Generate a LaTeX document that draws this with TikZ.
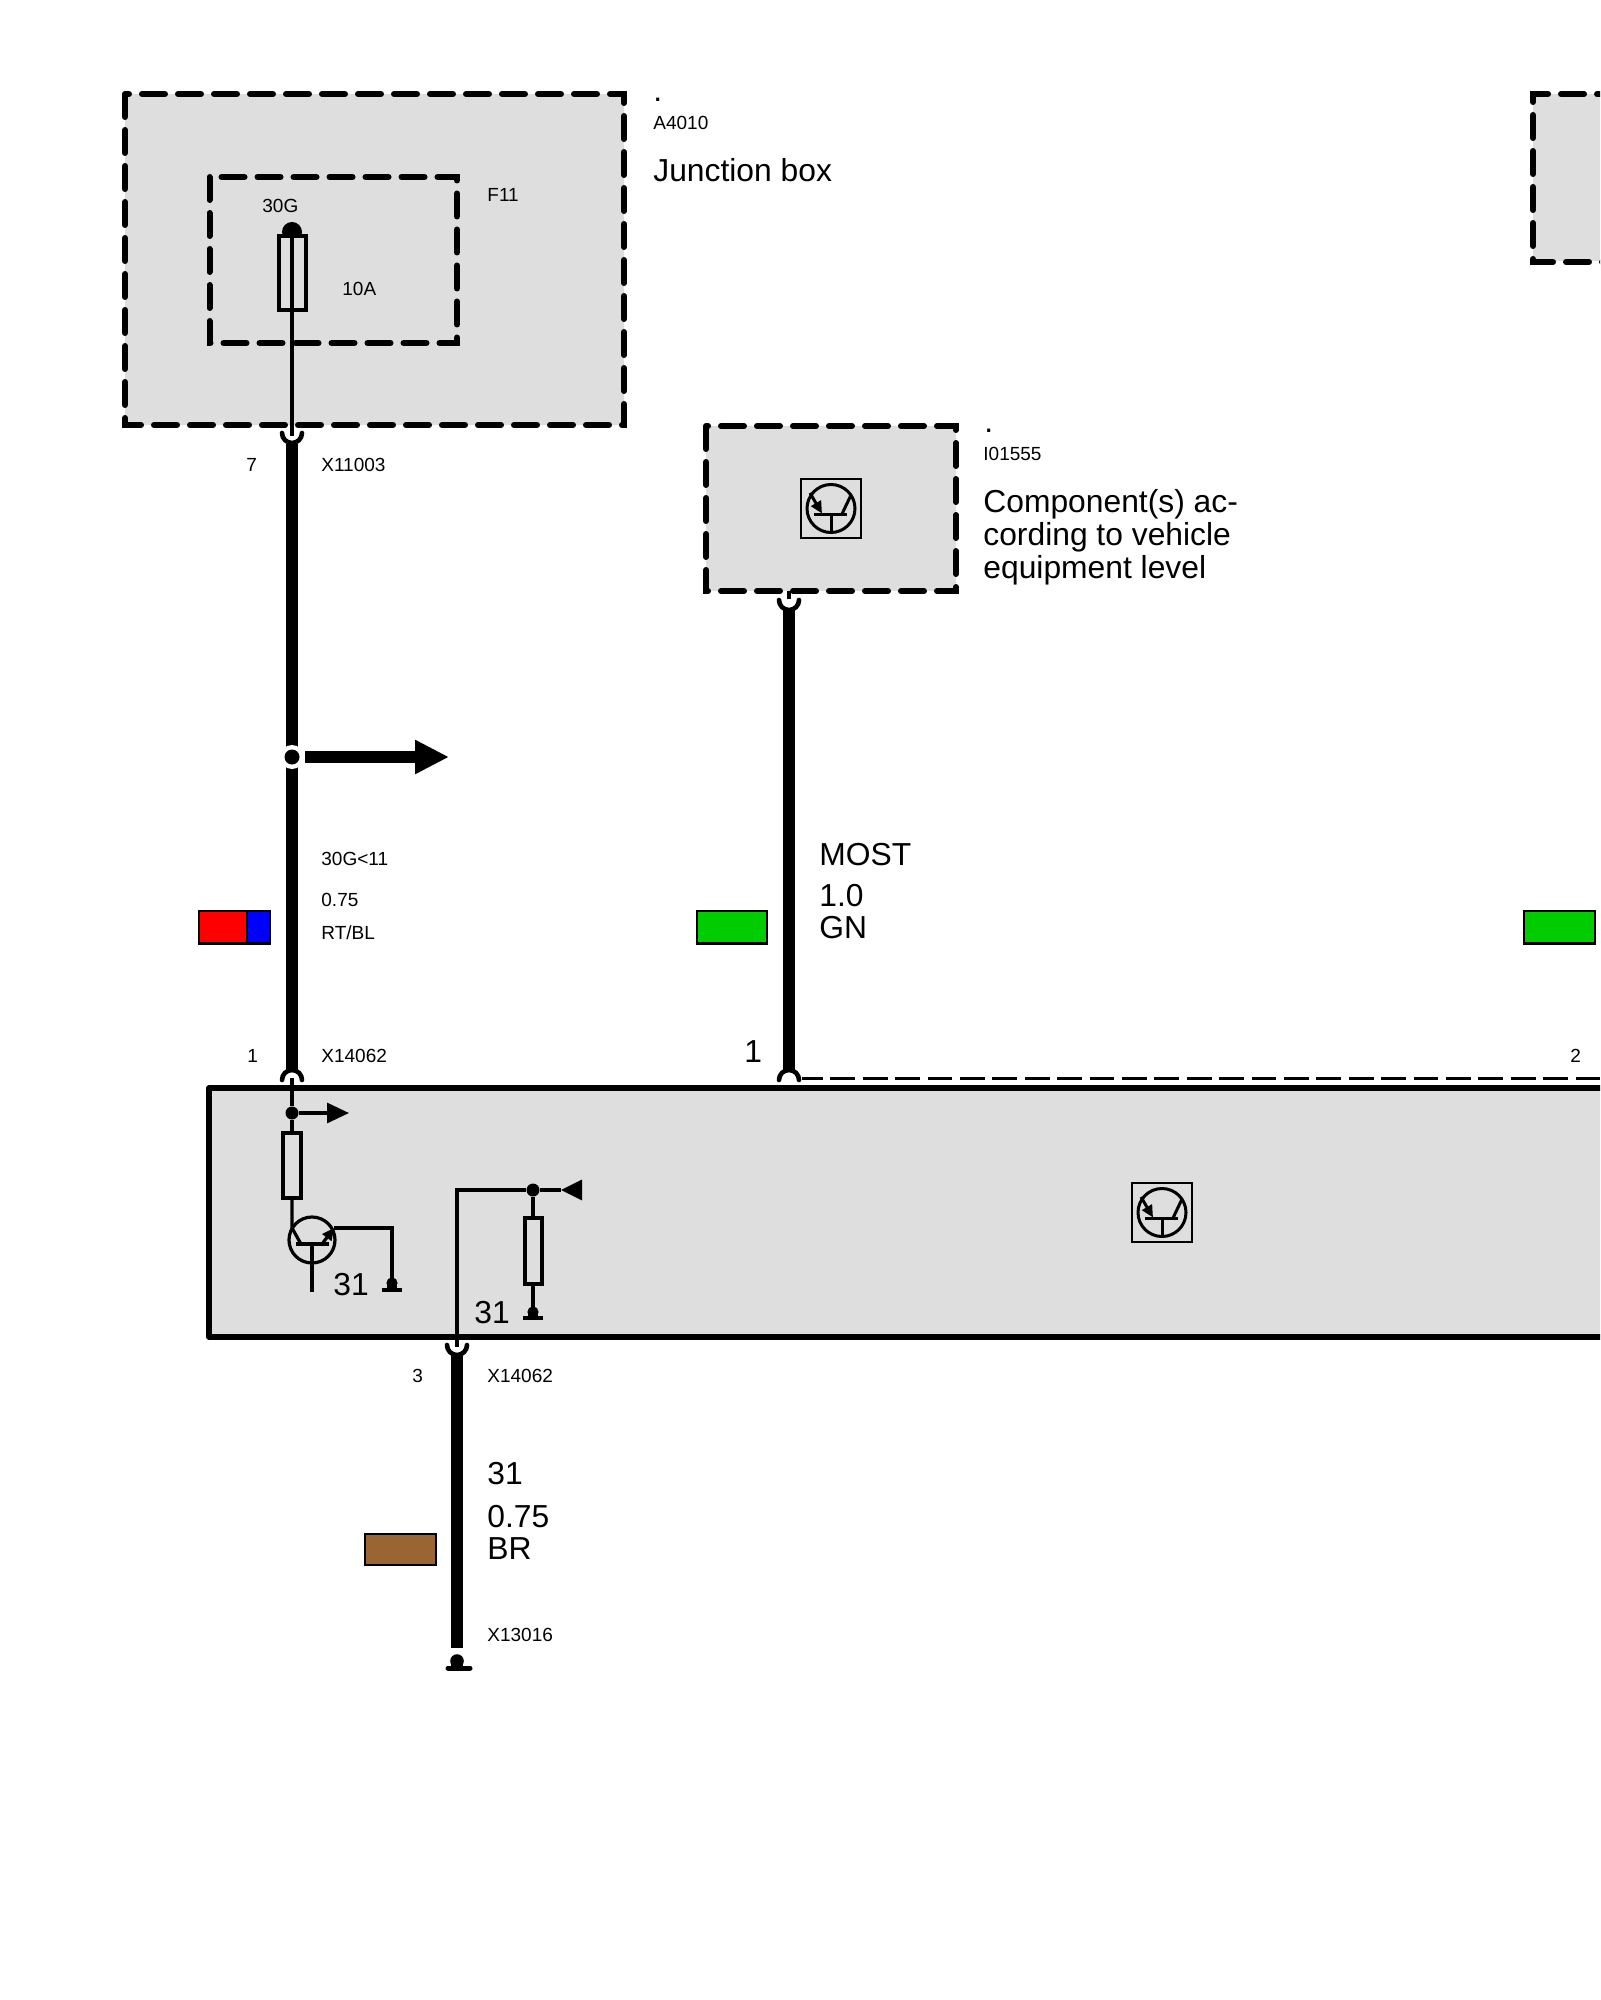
\documentclass[tikz,border=0pt]{standalone}
\usepackage{fontspec}
\setmainfont{Liberation Sans}
\usetikzlibrary{arrows.meta}
\definecolor{boxgrey}{HTML}{DEDEDE}
\definecolor{wiregreen}{HTML}{00CC00}
\definecolor{wirebrown}{HTML}{996633}
\tikzset{
	smalltxt/.style={anchor=base west,inner sep=0pt,font=\fontsize{9.5}{11}\selectfont},
	bigtxt/.style={anchor=base west,inner sep=0pt,font=\fontsize{15.9}{16.5}\selectfont},
	thinwire/.style={line width=1.6pt},
	thickwire/.style={line width=5.8pt},
	stubwire/.style={line width=2.2pt},
	dashbox/.style={line width=3pt,line cap=round,dash pattern=on 11.5pt off 6.5pt},
	swatch/.style={draw=black,line width=1.4pt},
	cupline/.style={line width=2.3pt,line cap=round},
	dotmark/.style={circle,fill=black,inner sep=0pt,minimum size=#1},
	transsym/.pic={
		\draw[line width=1.4pt] (-30,-29.5) rectangle (30,29.5);
		\draw[line width=1.5pt] (0,0) circle (12pt);
		\draw[line width=1.5pt] (-17,5.5) -- (16,5.5);
		\draw[line width=1.5pt] (0,5.5) -- (0,23);
		\draw[line width=1.5pt,-{Triangle[length=6pt,width=5.5pt]}] (-21,-15.5) -- (-9,5);
		\draw[line width=1.5pt] (11,5.5) -- (20,-13.5);
	}
}
\begin{document}
\begin{tikzpicture}[x=0.5pt,y=-0.5pt]
	\clip (0,0) rectangle (1600,2000);
	\fill[white] (0,0) rectangle (1600,2000);
	%Junction box
	\fill[boxgrey] (125,94) rectangle (624,425);
	\draw[dashbox] (125,94) rectangle (624,425);
	\draw[dashbox] (209.5,177) rectangle (457,343);
	\fill[boxgrey] (1533,94) rectangle (1620,261);
	\draw[dashbox] (1620,94) -- (1533,94) -- (1533,262) -- (1620,262);
	\node[bigtxt] (dotA) at (653,102) {.};
	\node[smalltxt] (idA) at (653,130) {A4010};
	\node[bigtxt] (nameA) at (653,182) {Junction box};
	\node[smalltxt] (f11) at (487,202) {F11};
	\node[smalltxt] (t30g) at (262,213) {30G};
	\node[smalltxt] (t10a) at (342,296) {10A};
	%Fuse
	\coordinate (fusetop) at (292,232);
	\coordinate (boxout) at (292,425);
	\coordinate (stubend) at (292,436);
	\fill (fusetop) circle (5pt);
	\draw[thinwire,fill=boxgrey] (279,236) rectangle (306,310);
	\draw[thinwire] (fusetop) -- (boxout);
	\draw[stubwire] (boxout) -- (stubend);
	%Wire 7 to 1
	\coordinate (w1top) at (292,444);
	\coordinate (w1bot) at (292,1070);
	\draw[cupline] (282,433) arc[start angle=180,end angle=360,radius=5pt];
	\draw[thickwire] (w1top) -- (w1bot);
	\draw[cupline] (282,1080) arc[start angle=180,end angle=0,radius=5pt];
	\node[circle,fill=white,inner sep=0pt,minimum size=12pt] (ring1) at (292,757) {};
	\node[dotmark=7.5pt] (j1) at (292,757) {};
	\coordinate (j1out) at (305,757);
	\coordinate (j1tip) at (449,757);
	\draw[thickwire,-{Triangle[length=17pt,width=16pt]}] (j1out) -- (j1tip);
	\node[smalltxt] (n7) at (246,472) {7};
	\node[smalltxt] (x11003) at (321,472) {X11003};
	\node[smalltxt] (t30g11) at (321,865) {30G<11};
	\node[smalltxt] (t075a) at (321,906) {0.75};
	\node[smalltxt] (trtbl) at (321,939) {RT/BL};
	\filldraw[swatch,fill=red] (199,911) rectangle (247,943.5);
	\filldraw[swatch,fill=blue] (247,911) rectangle (270,943.5);
	\node[smalltxt] (n1a) at (247,1062) {1};
	\node[smalltxt] (x14062a) at (321,1062) {X14062};
	%Component box
	\fill[boxgrey] (706,426) rectangle (956,591);
	\draw[dashbox] (706,426) rectangle (956,591);
	\pic at (831,508.5) {transsym};
	\node[bigtxt] (dotB) at (984,433) {.};
	\node[smalltxt] (idB) at (983,460) {I01555};
	\node[bigtxt,align=left,anchor=north west] (nameB) at (983,489.5) {Component(s) ac-\\cording to vehicle\\equipment level};
	%Wire MOST
	\coordinate (w2out) at (789,591);
	\coordinate (w2cup) at (789,599);
	\coordinate (w2top) at (789,610);
	\coordinate (w2bot) at (789,1070);
	\draw[stubwire] (w2out) -- (w2cup);
	\draw[cupline] (779,600) arc[start angle=180,end angle=360,radius=5pt];
	\draw[thickwire] (w2top) -- (w2bot);
	\draw[cupline] (779,1080) arc[start angle=180,end angle=0,radius=5pt];
	\node[bigtxt] (most) at (819,865) {MOST};
	\node[bigtxt] (t10) at (819,906) {1.0};
	\node[bigtxt] (gn) at (819,938) {GN};
	\filldraw[swatch,fill=wiregreen] (697,911) rectangle (767,943.5);
	\filldraw[swatch,fill=wiregreen] (1524,911) rectangle (1595,943.5);
	\node[bigtxt] (n1b) at (744,1062) {1};
	\node[smalltxt] (n2) at (1570,1062) {2};
	\coordinate (dashstart) at (802,1078);
	\coordinate (dashend) at (1620,1078);
	\draw[line width=1.5pt,dash pattern=on 12.4pt off 3.8pt,dash phase=2pt] (dashstart) -- (dashend);
	%Control unit
	\fill[boxgrey] (209,1088) rectangle (1620,1337);
	\draw[line width=2.8pt,line join=round] (1620,1088) -- (209,1088) -- (209,1337) -- (1620,1337);
	\pic at (1162,1212.5) {transsym};
	%Left branch
	\coordinate (in1) at (292,1078);
	\node[dotmark=6.5pt] (j2) at (292,1113) {};
	\coordinate (j2tip) at (349,1113);
	\coordinate (res1in) at (292,1133);
	\coordinate (res1out) at (292,1198);
	\coordinate (basepin) at (292,1228);
	\coordinate (baseend) at (301,1244);
	\draw[stubwire] (in1) -- (j2);
	\draw[thinwire] (j2) -- (res1in);
	\draw[thinwire,-{Triangle[length=11pt,width=10pt]}] (j2) -- (j2tip);
	\draw[thinwire] (283,1133) rectangle (301,1198);
	\draw[thinwire] (res1out) -- (basepin) -- (baseend);
	\draw[thinwire] (312,1240) circle (11.5pt);
	\draw[thinwire] (296,1244) -- (329,1244);
	\draw[thinwire] (312,1244) -- (312,1292);
	\coordinate (emit) at (334,1228);
	\coordinate (gnd1) at (392,1283);
	\coordinate (gnd1bar) at (392,1290);
	\draw[thinwire,-{Triangle[length=6pt,width=5.5pt]}] (322,1244) -- (emit);
	\draw[thinwire] (emit) -| (gnd1);
	\fill (gnd1) circle (2.8pt);
	\draw[line width=5pt] (gnd1) -- (gnd1bar);
	\draw[line width=1.6pt] (382,1290) -- (402,1290);
	\node[bigtxt] (t31a) at (333,1295) {31};
	%Right branch
	\coordinate (in3) at (457,1347);
	\coordinate (corner3) at (457,1190);
	\node[dotmark=6.5pt] (j3) at (533,1190) {};
	\coordinate (j3base) at (582,1190);
	\coordinate (j3tip) at (561,1190);
	\coordinate (res2in) at (533,1218);
	\coordinate (gnd2) at (533,1312);
	\coordinate (gnd2bar) at (533,1318);
	\draw[thinwire] (in3) -- (corner3) -- (j3);
	\draw[thinwire] (j3) -- (j3tip);
	\draw[thinwire,-{Triangle[length=10.5pt,width=10pt]}] (j3base) -- (j3tip);
	\draw[thinwire] (j3) -- (gnd2);
	\draw[thinwire,fill=boxgrey] (525,1218) rectangle (542,1284);
	\fill (gnd2) circle (2.8pt);
	\draw[line width=5pt] (gnd2) -- (gnd2bar);
	\draw[line width=1.6pt] (523,1318) -- (543,1318);
	\node[bigtxt] (t31b) at (474,1323) {31};
	%Wire 31
	\coordinate (w3top) at (457,1355);
	\coordinate (w3bot) at (457,1648);
	\coordinate (gnd3) at (457,1661);
	\coordinate (gnd3bar) at (457,1668);
	\draw[stubwire] (457,1337) -- (in3);
	\draw[cupline] (447,1345) arc[start angle=180,end angle=360,radius=5pt];
	\draw[thickwire] (w3top) -- (w3bot);
	\fill (gnd3) circle (3.4pt);
	\draw[line width=6pt] (gnd3) -- (gnd3bar);
	\draw[line width=2.5pt,line cap=round] (448,1668) -- (470,1668);
	\node[smalltxt] (n3) at (412,1382) {3};
	\node[smalltxt] (x14062b) at (487,1382) {X14062};
	\node[bigtxt] (t31c) at (487,1484) {31};
	\node[bigtxt] (t075b) at (487,1527) {0.75};
	\node[bigtxt] (br) at (487,1559) {BR};
	\node[smalltxt] (x13016) at (487,1641) {X13016};
	\filldraw[swatch,fill=wirebrown] (365,1534) rectangle (436,1565);
\end{tikzpicture}
\end{document}
